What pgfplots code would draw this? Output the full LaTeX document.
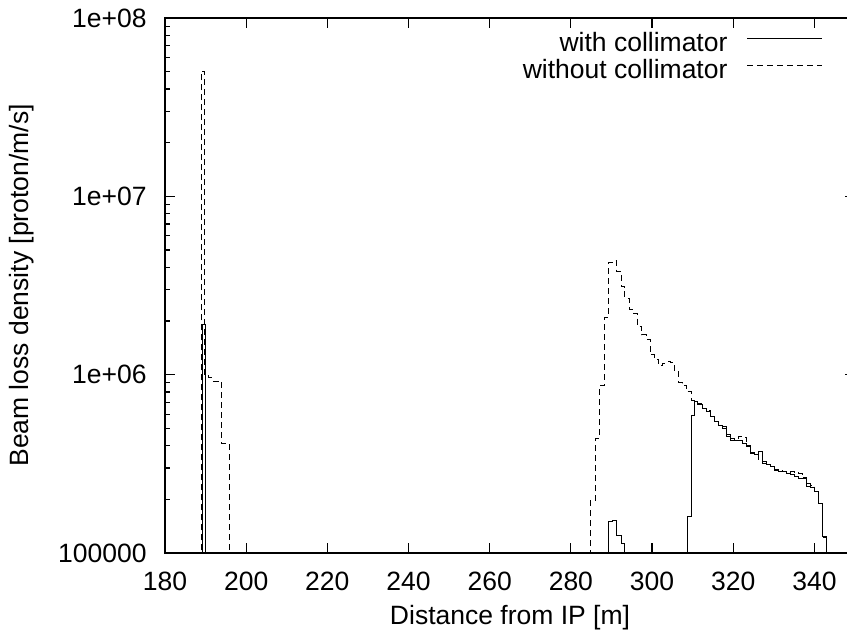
\documentclass[border=0pt]{standalone}
\usepackage{fontspec}
\setmainfont{Liberation Sans}
\usepackage{pgfplots}
\pgfplotsset{compat=1.18}
\begin{document}
\fontsize{13.25}{15}\selectfont
\begin{tikzpicture}
\begin{semilogyaxis}[
  at={(0pt,0pt)}, anchor=south west,
  scale only axis, width=345pt, height=267.5pt,
  xmin=180, xmax=350, ymin=1e5, ymax=1e8,
  xtick={180,200,...,340},
  ytick={1e5,1e6,1e7,1e8},
  yticklabels={100000,1e+06,1e+07,1e+08},
  minor ytick={2e5,3e5,4e5,5e5,6e5,7e5,8e5,9e5,2e6,3e6,4e6,5e6,6e6,7e6,8e6,9e6,2e7,3e7,4e7,5e7,6e7,7e7,8e7,9e7},
  /pgf/number format/assume math mode=true,
  xticklabel style={inner sep=0pt, yshift=-9.5pt},
  yticklabel style={inner sep=0pt, xshift=-9pt},
  tick align=inside, xtick pos=both, ytick pos=both,
  major tick length=5pt, minor tick length=2.5pt,
  every tick/.style={black, line width=0.6pt},
  axis line style={line width=0.6pt},
  xlabel={Distance from IP [m]},
  ylabel={Beam loss density [proton/m/s]},
  xlabel style={at={(axis description cs:0.5,-0.12)}, anchor=center},
  ylabel style={at={(axis description cs:-0.2072,0.5)}, anchor=center},
  legend style={draw=none, fill=none, at={(rel axis cs:0.9536,0.9727)}, anchor=north east,
    inner sep=0pt, outer sep=0pt,
    nodes={inner sep=0pt, text height=9.5pt, text depth=3.8pt}},
  legend cell align=right,
  legend plot pos=right,
  legend image code/.code={\path[draw=none,fill=none] (0pt,3.5pt) -- (47.5pt,3.5pt);\draw[#1] (10pt,3.5pt) -- (47.5pt,3.5pt);},
]
\addplot[const plot, black, line width=0.5pt] coordinates {
(185,1) (189.2,1.9e6) (189.9,1)
(289.30,1.50e5) (290.29,1.52e5) (291.28,1.26e5) (292.35,1.13e5) (293.33,1)
(308.64,1.6e5) (309.63,5.9e5) (310.45,7.06e5) (311.28,6.76e5) (312.35,6.47e5)
(313.33,6.2e5) (314.32,5.8e5) (315.31,5.44e5) (316.30,5.22e5) (317.28,5.0e5)
(318.27,4.49e5) (319.26,4.3e5) (320.25,4.25e5) (321.23,4.3e5) (322.22,4.12e5)
(323.21,3.95e5) (324.20,3.62e5) (325.19,3.57e5) (326.17,3.7e5) (327.16,3.18e5)
(328.15,3.14e5) (329.14,3.05e5) (330.12,2.92e5) (331.11,2.88e5) (332.10,2.88e5)
(333.09,2.8e5) (334.07,2.76e5) (335.06,2.68e5) (336.05,2.62e5) (337.04,2.6e5)
(338.02,2.36e5) (339.01,2.32e5) (340.00,2.21e5) (340.99,1.9e5) (341.98,1.24e5)
(342.96,1) (350,1)
};
\addlegendentry{with collimator}
\addplot[const plot, black, line width=0.5pt, dash pattern=on 3pt off 2pt] coordinates {
(185,1) (188.9,5e7) (189.8,1.0e6) (190.8,9.6e5) (191.8,9.2e5) (194.0,4.1e5) (196.0,1)
(284.94,1.98e5) (286.17,4.4e5) (287.16,8.7e5) (288.23,2.1e6) (289.30,4.25e6)
(290.29,4.35e6) (291.28,3.78e6) (292.35,3.12e6) (293.33,2.68e6) (294.40,2.31e6)
(295.39,2.21e6) (296.46,1.86e6) (297.45,1.67e6) (298.52,1.58e6) (299.51,1.29e6)
(300.58,1.22e6) (301.56,1.13e6) (302.55,1.16e6) (303.46,1.18e6) (304.53,1.17e6)
(305.51,1.05e6) (306.50,9.0e5) (307.57,8.7e5) (308.56,8.0e5) (309.63,7.2e5)
(310.45,7.0e5) (311.28,6.85e5) (312.35,6.5e5) (313.33,6.3e5) (314.32,5.85e5)
(315.31,5.5e5) (316.30,5.2e5) (317.28,5.1e5) (318.27,4.6e5) (319.26,4.4e5)
(320.25,4.3e5) (321.23,4.5e5) (322.22,4.45e5) (323.21,4.0e5) (324.20,3.65e5)
(325.19,3.6e5) (326.17,3.3e5) (327.16,3.25e5) (328.15,3.12e5) (329.14,3.05e5)
(330.12,2.95e5) (331.11,2.9e5) (332.10,2.85e5) (333.09,2.82e5) (334.07,2.85e5)
(335.06,2.82e5) (336.05,2.78e5) (337.04,2.65e5) (338.02,2.45e5) (339.01,2.4e5)
(340.00,2.2e5) (340.99,1.9e5) (341.98,1.22e5) (343.1,1) (350,1)
};
\addlegendentry{without collimator}
\end{semilogyaxis}
\pgfresetboundingbox
\path[use as bounding box] (-82.5pt,-40pt) rectangle (341pt,276.5pt);
\end{tikzpicture}
\end{document}
